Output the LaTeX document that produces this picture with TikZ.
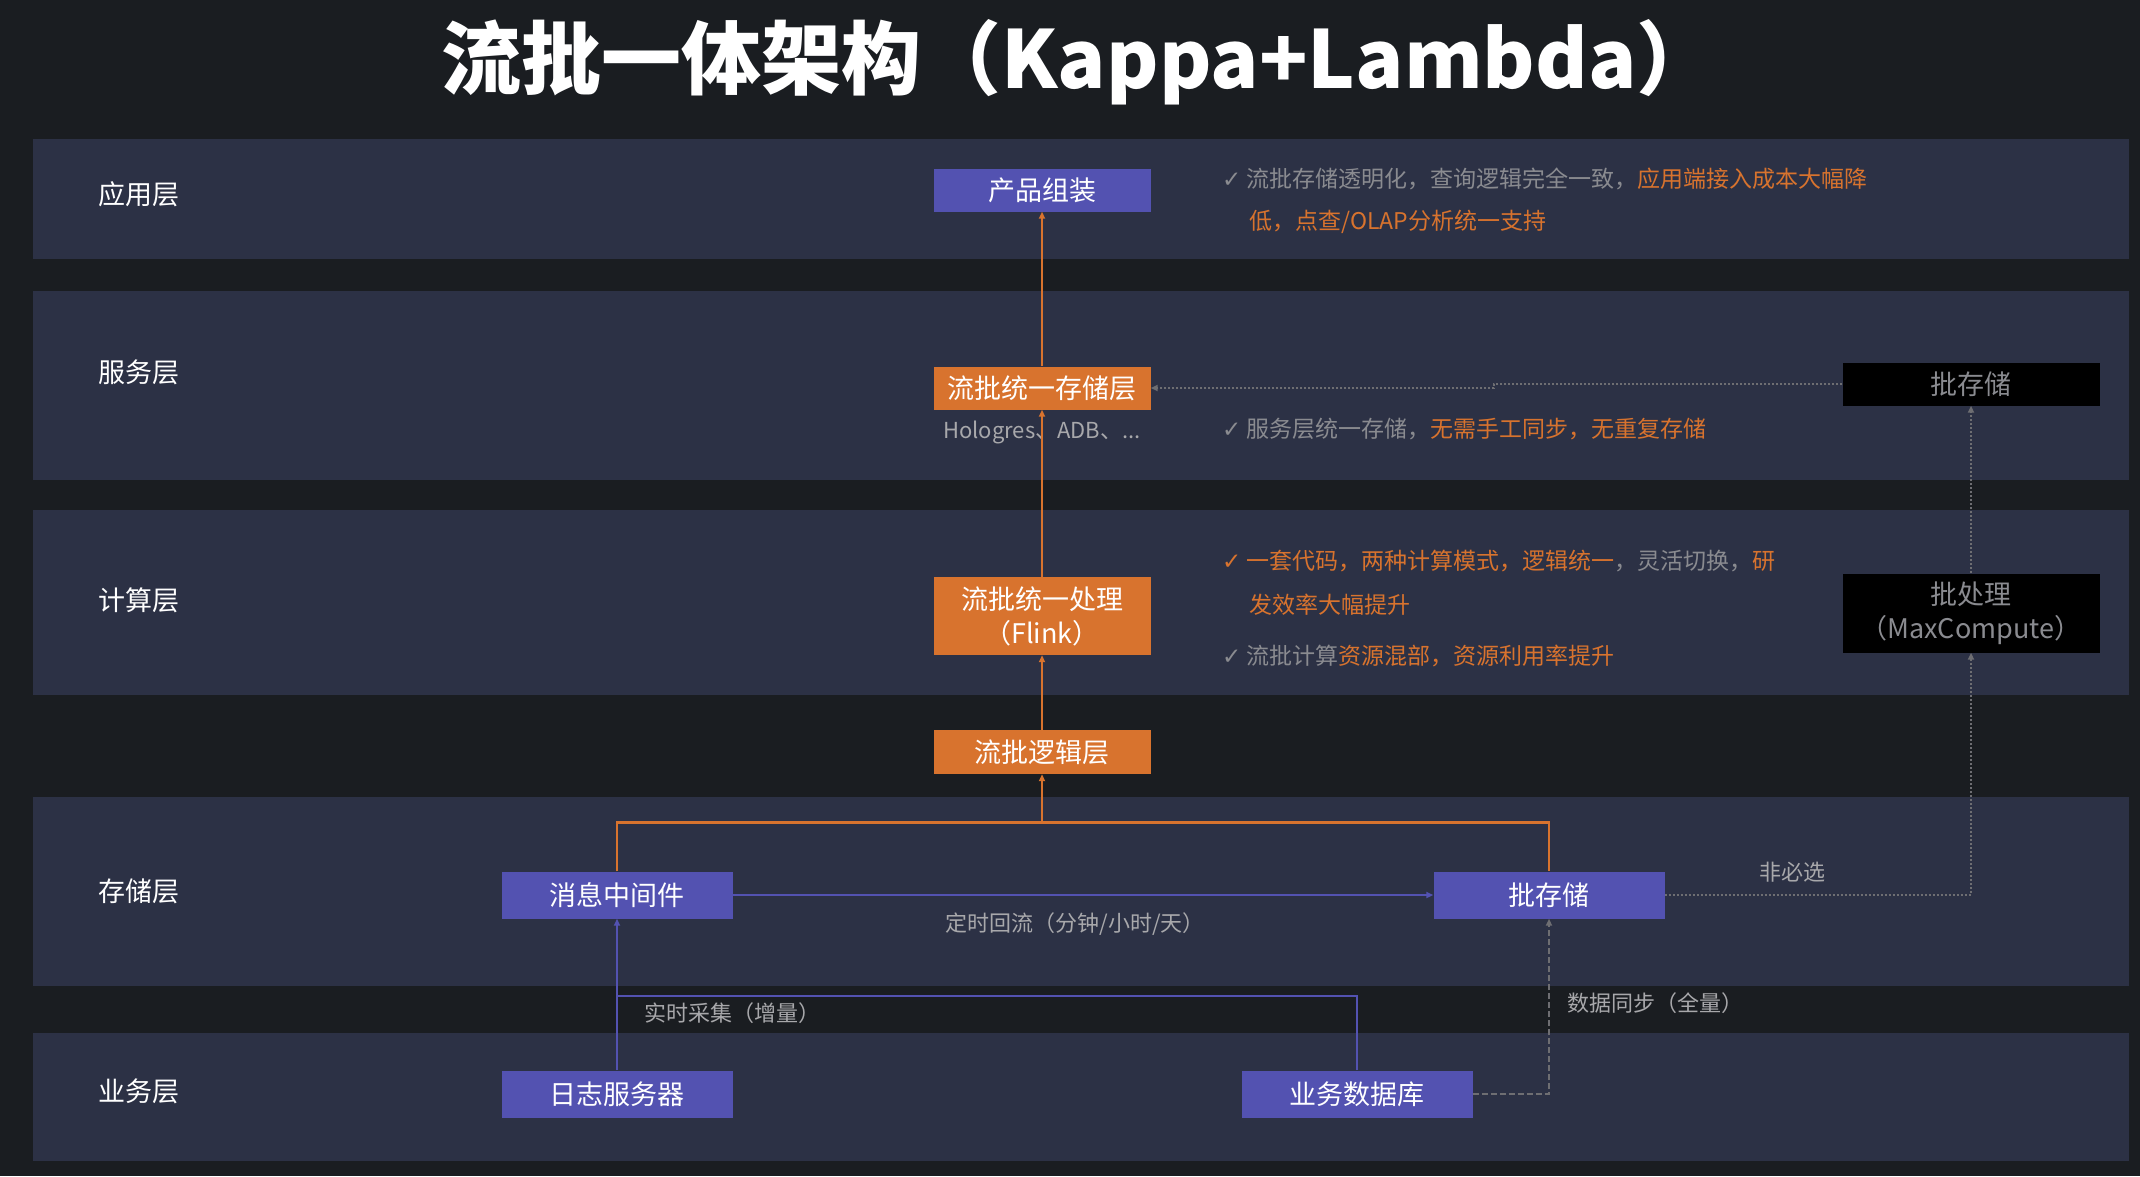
\documentclass[tikz,border=0pt]{standalone}
\usepackage{fontspec}
\setmainfont{Noto Sans CJK SC}
\newfontfamily\symfont{DejaVu Sans}
\usepackage{tikz}
\usetikzlibrary{arrows.meta,positioning,calc}
\usepackage{xcolor}
\definecolor{pagebg}{HTML}{1A1D21}
\definecolor{bandbg}{HTML}{2C3145}
\definecolor{streampurple}{HTML}{5352B1}
\definecolor{batchorange}{HTML}{D8732E}
\definecolor{notegray}{HTML}{8A8B90}
\definecolor{labelgray}{HTML}{A8A8AB}
\definecolor{linegray}{HTML}{6E6E72}
\newcommand{\chk}{{\symfont ✓}\hspace{5pt}}

\begin{document}
\begin{tikzpicture}[
  x=1pt, y=-1pt,
  >={Triangle[length=7pt,width=6pt]},
  layer/.style={fill=bandbg, draw=none},
  laylabel/.style={
    anchor=west,
    inner sep=0pt,
    text=white,
    font=\fontsize{27}{32}\selectfont
  },
  flowbox/.style={
    fill=streampurple,
    text=white,
    inner sep=0pt,
    minimum width=231pt,
    minimum height=47pt,
    align=center,
    font=\fontsize{27}{34}\selectfont
  },
  unibox/.style={
    fill=batchorange,
    text=white,
    inner sep=0pt,
    minimum width=217pt,
    minimum height=43pt,
    align=center,
    font=\fontsize{27}{34}\selectfont
  },
  batchbox/.style={
    fill=black,
    text=notegray,
    inner sep=0pt,
    minimum width=257pt,
    minimum height=43pt,
    align=center,
    font=\fontsize{27}{34}\selectfont
  },
  note/.style={
    anchor=west,
    inner sep=0pt,
    text=notegray,
    font=\fontsize{23}{28}\selectfont
  },
  tag/.style={
    inner sep=0pt,
    text=labelgray,
    font=\fontsize{22}{26}\selectfont
  },
  orangeline/.style={draw=batchorange, line width=2pt},
  purpleline/.style={draw=streampurple, line width=2.5pt},
  dotline/.style={draw=linegray, line width=2pt, dash pattern=on 2pt off 2pt},
  dashline/.style={draw=linegray, line width=2pt, dash pattern=on 6pt off 3pt}
]

  % Canvas and layer bands
  \fill[pagebg] (0,0) rectangle (2140,1176);
  \useasboundingbox (0,0) rectangle (2140,1176);
  \fill[layer] (33,139) rectangle (2129,259);
  \fill[layer] (33,291) rectangle (2129,480);
  \fill[layer] (33,510) rectangle (2129,695);
  \fill[layer] (33,797) rectangle (2129,986);
  \fill[layer] (33,1033) rectangle (2129,1161);

  % Title
  \node[text=white, font=\bfseries\fontsize{80}{92}\selectfont] (title) at (1079,62) {流批一体架构（Kappa+Lambda）};

  % Layer names
  \node[laylabel] (lapp) at (98,194) {应用层};
  \node[laylabel] (lsrv) at (98,372) {服务层};
  \node[laylabel] (lcmp) at (98,600) {计算层};
  \node[laylabel] (lsto) at (98,891) {存储层};
  \node[laylabel] (lbiz) at (98,1091) {业务层};

  % Unified stream/batch column
  \node[flowbox, minimum width=217pt, minimum height=43pt] (app) at (1042,190) {产品组装};
  \node[unibox] (store) at (1042,388) {流批统一存储层};
  \node[tag, below=11pt of store] (olap) {Hologres、ADB、...};
  \node[unibox, minimum height=78pt] (flink) at (1042,616) {流批统一处理\\（Flink）};
  \node[unibox, minimum height=44pt] (logic) at (1042,752) {流批逻辑层};

  % Optional batch path
  \node[batchbox] (bstore) at (1971,384) {批存储};
  \node[batchbox, minimum height=79pt] (bproc) at (1971,613) {批处理\\（MaxCompute）};

  % Storage and business sources
  \node[flowbox] (mq) at (617,895) {消息中间件};
  \node[flowbox] (bs) at (1549,895) {批存储};
  \node[flowbox] (logsrv) at (617,1094) {日志服务器};
  \node[flowbox] (bizdb) at (1357,1094) {业务数据库};

  % Notes
  \node[note] (n1a) at (1222,179) {\chk 流批存储透明化，查询逻辑完全一致，{\color{batchorange}应用端接入成本大幅降}};
  \node[note, text=batchorange] (n1b) at (1249,222) {低，点查/OLAP分析统一支持};
  \node[note] (n2) at (1222,429) {\chk 服务层统一存储，{\color{batchorange}无需手工同步，无重复存储}};
  \node[note] (n3a) at (1222,561) {{\color{batchorange}\chk 一套代码，两种计算模式，逻辑统一}，灵活切换，{\color{batchorange}研}};
  \node[note, text=batchorange] (n3b) at (1249,605) {发效率大幅提升};
  \node[note] (n4) at (1222,656) {\chk 流批计算{\color{batchorange}资源混部，资源利用率提升}};

  % Orange flow
  \coordinate (merge) at (1042,822);
  \draw[orangeline] (mq.north) |- (merge) -| (bs.north);
  \draw[orangeline, line width=3pt] (mq.north |- merge) -- (bs.north |- merge);
  \draw[orangeline, ->] (merge) -- (logic.south);
  \draw[orangeline, ->] (logic.north) -- (flink.south);
  \draw[orangeline, ->] (flink.north) -- (store.south);
  \draw[orangeline, ->] (store.north) -- (app.south);

  % Purple flow
  \coordinate (collect) at (617,996);
  \draw[purpleline, ->] (mq.east) -- node[tag, below=16pt, midway, xshift=-8pt] (backflow) {定时回流（分钟/小时/天）} (bs.west);
  \draw[purpleline, ->] (logsrv.north) -- (mq.south);
  \draw[purpleline] (bizdb.north) |- (collect);
  \node[tag, anchor=west] (realtime) at (644,1013) {实时采集（增量）};

  % Gray sync lines
  \draw[dashline, ->] (bizdb.east) -| (bs.south);
  \node[tag, anchor=west] (fullsync) at (1567,1003) {数据同步（全量）};
  \draw[dotline, ->] (bs.east) -| (bproc.south);
  \node[tag] (optional) at (1792,872) {非必选};
  \draw[dotline, ->] (bproc.north) -- (bstore.south);
  \draw[dotline, ->] (bstore.west) -- ++(-348,0) |- (store.east);

\end{tikzpicture}
\end{document}
